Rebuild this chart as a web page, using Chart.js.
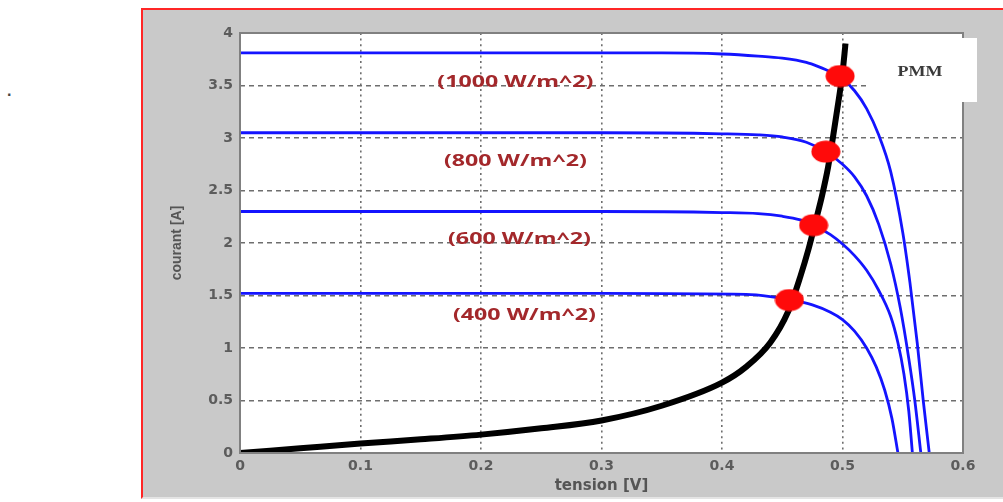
<!DOCTYPE html>
<html>
<head>
<meta charset="utf-8">
<script src="https://cdn.jsdelivr.net/npm/chart.js@4.4.1/dist/chart.umd.min.js"></script>
<style>
html,body{margin:0;padding:0;background:#fff;width:1003px;height:502px;overflow:hidden;}
#frame{position:absolute;left:141px;top:8px;width:860px;height:487px;background:#c9c9c9;border-top:2px solid #ff2626;border-left:2px solid #ff2626;border-bottom:2px solid #e4e4e4;}
#dot{position:absolute;left:7px;top:82px;font:bold 16px 'Liberation Sans';color:#444;}
canvas{position:absolute;left:0;top:0;}
</style>
</head>
<body>
<div id="frame"></div>
<div id="dot">.</div>
<canvas id="c" width="1003" height="502"></canvas>
<script>
// ---- axis ticks ----
const xTickValues = [0, 0.1, 0.2, 0.3, 0.4, 0.5, 0.6];
const xTickLabels = ['0', '0.1', '0.2', '0.3', '0.4', '0.5', '0.6'];
const yTickValues = [0, 0.5, 1, 1.5, 2, 2.5, 3, 3.5, 4];
const yTickLabels = ['0', '0.5', '1', '1.5', '2', '2.5', '3', '3.5', '4'];

// ---- I-V curves (tension V, courant A) ----
const v1000 = [0, 0.1, 0.2, 0.3, 0.35, 0.4, 0.43, 0.45, 0.47, 0.48, 0.49, 0.5, 0.51, 0.52, 0.53, 0.54, 0.55, 0.556, 0.562, 0.567, 0.572];
const i1000 = [3.81, 3.81, 3.81, 3.81, 3.81, 3.8, 3.78, 3.76, 3.72, 3.68, 3.63, 3.56, 3.45, 3.28, 3.03, 2.68, 2.1, 1.62, 1.05, 0.5, 0];

const v800 = [0, 0.1, 0.2, 0.3, 0.4, 0.43, 0.45, 0.47, 0.486, 0.5, 0.51, 0.52, 0.53, 0.54, 0.548, 0.555, 0.56, 0.565];
const i800 = [3.05, 3.05, 3.05, 3.05, 3.04, 3.03, 3.01, 2.96, 2.87, 2.75, 2.63, 2.45, 2.18, 1.8, 1.38, 0.9, 0.5, 0];

const v600 = [0, 0.1, 0.2, 0.3, 0.4, 0.43, 0.45, 0.465, 0.476, 0.49, 0.5, 0.51, 0.52, 0.53, 0.54, 0.546, 0.551, 0.555, 0.558];
const i600 = [2.3, 2.3, 2.3, 2.3, 2.29, 2.28, 2.255, 2.22, 2.17, 2.08, 1.99, 1.88, 1.74, 1.55, 1.3, 1.05, 0.75, 0.4, 0];

const v400 = [0, 0.1, 0.2, 0.3, 0.42, 0.44, 0.457, 0.475, 0.49, 0.5, 0.51, 0.52, 0.528, 0.535, 0.541, 0.546];
const i400 = [1.52, 1.52, 1.52, 1.52, 1.51, 1.49, 1.46, 1.41, 1.34, 1.27, 1.16, 1.0, 0.82, 0.6, 0.33, 0];

// ---- PMM locus (black) ----
const vPmm = [0, 0.05, 0.1, 0.15, 0.2, 0.25, 0.3, 0.35, 0.4, 0.42, 0.44, 0.455, 0.465, 0.472, 0.478, 0.483, 0.488, 0.492, 0.496, 0.5, 0.5025];
const iPmm = [0, 0.045, 0.09, 0.13, 0.175, 0.235, 0.31, 0.45, 0.67, 0.82, 1.05, 1.35, 1.68, 1.95, 2.22, 2.45, 2.72, 3.0, 3.3, 3.62, 3.9];

// ---- maximum power points (red) ----
const vMpp = [0.456, 0.476, 0.4862, 0.498];
const iMpp = [1.457, 2.17, 2.87, 3.59];

// ---- irradiance labels ----
const irrLabels = ['(1000 W/m^2)', '(800 W/m^2)', '(600 W/m^2)', '(400 W/m^2)'];
const irrLabelV = [0.2285, 0.2285, 0.2319, 0.236];
const irrLabelI = [3.53, 2.78, 2.03, 1.314];

const legendText = 'PMM';

function pts(xs, ys) { return xs.map((x, k) => ({x: x, y: ys[k]})); }

function ellipseStyle() {
  const c = document.createElement('canvas');
  c.width = 30; c.height = 23;
  const g = c.getContext('2d');
  g.fillStyle = '#ff0a0a';
  g.beginPath();
  g.ellipse(15, 11.5, 14.5, 11, 0, 0, Math.PI * 2);
  g.fill();
  return c;
}

const blueLine = (xs, ys) => ({
  data: pts(xs, ys), showLine: true, borderColor: '#1414ff', borderWidth: 2.8,
  pointRadius: 0, cubicInterpolationMode: 'monotone', order: 2, fill: false
});

const decor = {
  id: 'decor',
  beforeDraw(chart) {
    const {ctx, chartArea: a} = chart;
    ctx.save();
    ctx.fillStyle = '#ffffff';
    ctx.fillRect(a.left, a.top, a.width, a.height);
    ctx.restore();
  },
  afterDatasetsDraw(chart) {
    const {ctx, scales} = chart;
    ctx.save();
    ctx.font = 'bold 16px "Open Sans"';
    ctx.fillStyle = '#a3282b';
    ctx.textAlign = 'center';
    ctx.textBaseline = 'middle';
    irrLabels.forEach((t, k) => {
      const px = scales.x.getPixelForValue(irrLabelV[k]);
      const py = scales.y.getPixelForValue(irrLabelI[k]);
      ctx.save();
      ctx.translate(px, py);
      ctx.scale(1.45, 1);
      ctx.fillText(t, 0, 0);
      ctx.restore();
    });
    ctx.restore();
  },
  afterDraw(chart) {
    const {ctx, chartArea: a} = chart;
    ctx.save();
    ctx.strokeStyle = '#808080';
    ctx.lineWidth = 2;
    ctx.strokeRect(a.left, a.top, a.width, a.height);
    // legend box
    const bx = a.right - 94, by = a.top + 5, bw = 108, bh = 64;
    ctx.fillStyle = '#ffffff';
    ctx.fillRect(bx, by, bw, bh);
    ctx.font = 'bold 15px "Liberation Serif"';
    ctx.fillStyle = '#3a3a3a';
    ctx.textAlign = 'center';
    ctx.textBaseline = 'middle';
    ctx.translate(bx + 51, by + bh / 2 + 2);
    ctx.scale(1.2, 1);
    ctx.fillText(legendText, 0, 0);
    ctx.restore();
  }
};

const tickFont = {family: 'DejaVu Sans', size: 14, weight: 'bold'};

new Chart(document.getElementById('c'), {
  type: 'scatter',
  data: {
    datasets: [
      {data: pts(vMpp, iMpp), pointStyle: ellipseStyle(), pointRadius: 12, showLine: false, order: 0},
      {data: pts(vPmm, iPmm), showLine: true, borderColor: '#000000', borderWidth: 6, pointRadius: 0, cubicInterpolationMode: 'monotone', order: 1},
      blueLine(v1000, i1000),
      blueLine(v800, i800),
      blueLine(v600, i600),
      blueLine(v400, i400)
    ]
  },
  options: {
    responsive: false,
    animation: false,
    events: [],
    devicePixelRatio: 1,
    layout: {padding: {left: 142, top: 33, right: 40, bottom: 6}},
    plugins: {legend: {display: false}, tooltip: {enabled: false}},
    scales: {
      x: {
        type: 'linear', min: 0, max: 0.6,
        afterBuildTicks: s => { s.ticks = xTickValues.map(v => ({value: v})); },
        afterFit: s => { s.height = 43; },
        ticks: {callback: (v, i) => xTickLabels[i], font: tickFont, color: '#5c5c5c', padding: 5, maxRotation: 0},
        grid: {color: '#6e6e6e', lineWidth: 1.6, drawTicks: false},
        border: {display: false, dash: [2, 3.6]},
        title: {display: true, text: 'tension [V]', font: {family: 'DejaVu Sans', size: 15, weight: 'bold'}, color: '#555555', padding: {top: 0, bottom: 1}}
      },
      y: {
        type: 'linear', min: 0, max: 4,
        afterBuildTicks: s => { s.ticks = yTickValues.map(v => ({value: v})); },
        afterFit: s => { s.width = 98; },
        ticks: {callback: (v, i) => yTickLabels[i], font: tickFont, color: '#5c5c5c', padding: 7},
        grid: {color: '#6e6e6e', lineWidth: 1.6, drawTicks: false},
        border: {display: false, dash: [5, 4]},
        title: {display: true, text: 'courant [A]', font: {family: 'Liberation Sans', size: 14, weight: 'bold'}, color: '#555555', padding: {top: 27, bottom: 0}}
      }
    }
  },
  plugins: [decor]
});
</script>
</body>
</html>
